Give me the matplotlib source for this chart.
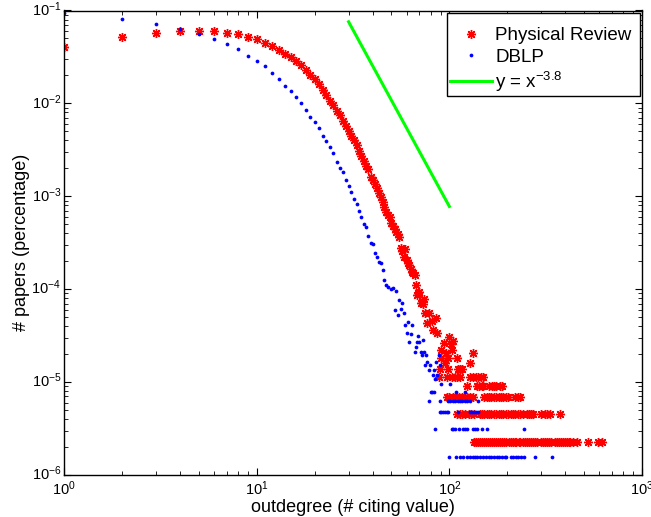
import matplotlib
matplotlib.use("Agg")
import matplotlib.pyplot as plt
import matplotlib.transforms as mtransforms
from matplotlib.patches import Rectangle

plt.rcParams['font.family'] = ['Liberation Sans', 'DejaVu Sans']
plt.rcParams['mathtext.fontset'] = 'custom'
plt.rcParams['mathtext.rm'] = 'Liberation Sans'
plt.rcParams['mathtext.it'] = 'Liberation Sans:italic'
plt.rcParams['mathtext.default'] = 'regular'

# ---------------- data ----------------
# Physical Review: outdegree -> fraction of papers (continuous part)
pr_deg = [1, 2, 3, 4, 5, 6, 7, 8, 9, 10, 11, 12, 13, 14, 15, 16, 17, 18, 19, 20,
          21, 22, 23, 24, 25, 26, 27, 28, 29, 30, 31, 32, 33, 34, 35, 36, 37, 38, 39, 40,
          41, 42, 43, 44, 45, 46, 47, 48, 49, 50, 51, 52, 53, 54, 55, 56, 57, 58, 59, 60,
          61, 62, 63, 64, 65, 66, 67, 68, 69, 70, 71, 72, 73, 74, 75, 77, 78, 81, 82, 85,
          86, 90, 94, 100, 102, 103, 104]
pr_frac = [0.0407, 0.0515, 0.0577, 0.0597, 0.0601, 0.0601, 0.0577, 0.0555, 0.0523, 0.0490,
           0.0450, 0.0418, 0.0379, 0.0343, 0.0318, 0.0286, 0.0257, 0.0227, 0.0202, 0.0183,
           0.0163, 0.0139, 0.0124, 0.0105, 0.00955, 0.00829, 0.00745, 0.00647, 0.00576, 0.0050,
           0.0045, 0.00404, 0.00359, 0.00309, 0.00274, 0.00238, 0.00213, 0.00198, 0.00163, 0.00150,
           0.00135, 0.00122, 0.00109, 0.00098, 0.00087, 0.00077, 0.00068, 0.00063, 0.00060, 0.00052,
           0.00048, 0.00045, 0.00041, 0.00039, 0.000365, 0.000275, 0.00026, 0.000224, 0.000268, 0.000205,
           0.000193, 0.00018, 0.000164, 0.000155, 0.000148, 0.000143, 0.000111, 8.66e-5, 9.17e-5, 9.4e-5,
           7.05e-5, 7.46e-5, 6.93e-5, 7.79e-5, 5.51e-5, 4.36e-5, 5.51e-5, 4.55e-5, 3.64e-5, 4.93e-5,
           3.35e-5, 2.22e-5, 2.66e-5, 3.08e-5, 2.55e-5, 2.22e-5, 2.79e-5]

# Physical Review tail: quantised levels and the outdegrees found on each
pr_levels = [2.29e-6, 4.57e-6, 6.86e-6, 9.14e-6, 1.14e-5, 1.37e-5, 1.60e-5, 1.83e-5, 2.06e-5]
pr_level_deg = [
    [135, 138, 141, 145, 148, 152, 155, 159, 163, 167, 171, 175, 179, 184, 188, 193, 198,
     203, 208, 213, 218, 223, 229, 234, 240, 246, 252, 258, 264, 271, 277, 284, 298, 305,
     313, 320, 328, 336, 353, 361, 370, 379, 388, 398, 408, 418, 423, 436, 458, 526, 593, 617],
    [109, 113, 117, 121, 126, 130, 135, 144, 148, 152, 156, 160, 165, 170, 175, 180, 185,
     190, 196, 202, 208, 214, 220, 227, 234, 242, 252, 258, 265, 272, 300, 312, 320, 333, 375],
    [97, 100, 104, 108, 112, 116, 120, 124, 128, 133, 152, 156, 160, 165, 170, 175, 180,
     185, 191, 196, 202, 219, 226, 234],
    [124, 139, 143, 147, 150, 161, 166, 170, 175, 183, 187],
    [88, 97, 103, 107, 110, 114, 128, 132, 137, 141, 146, 150],
    [89, 99, 111, 114, 117],
    [95, 128],
    [90, 99, 109],
    [96, 132],
]

# DBLP: outdegree -> fraction of papers (continuous part)
db_deg = [1, 2, 3, 4, 5, 6, 7, 8, 9, 10, 11, 12, 13, 14, 15, 16, 17, 18, 19, 20,
          21, 22, 23, 24, 25, 26, 27, 28, 29, 30, 31, 32, 33, 34, 35, 36, 37, 38, 39, 40,
          41, 42, 43, 44, 45, 46, 47, 48, 50, 51, 52, 53, 54, 55, 56, 57, 58, 59, 60, 61,
          62, 63, 64, 66, 67, 68, 69, 70, 71, 72, 73, 74, 75, 76, 77, 78, 79, 82, 83, 84,
          85, 86, 88, 89]
db_frac = [0.0933, 0.081, 0.0716, 0.0632, 0.0563, 0.0497, 0.0439, 0.0382, 0.0326, 0.0286,
           0.0251, 0.0212, 0.0184, 0.0155, 0.0136, 0.0116, 0.0100, 0.00855, 0.00708, 0.00625,
           0.00539, 0.00445, 0.00394, 0.00337, 0.00294, 0.00232, 0.00200, 0.00183, 0.00151, 0.00129,
           0.00111, 0.000929, 0.00082, 0.000695, 0.000599, 0.000507, 0.000471, 0.000371, 0.000317, 0.000304,
           0.000243, 0.00022, 0.000198, 0.000193, 0.000161, 0.000126, 0.000111, 0.000105, 9.97e-5, 1.02e-4,
           6.02e-5, 9.57e-5, 5.27e-5, 7.65e-5, 6.1e-5, 7.16e-5, 5.55e-5, 4.15e-5, 3.4e-5, 4.44e-5,
           2.68e-5, 3.27e-5, 4.15e-5, 2.09e-5, 2.39e-5, 2.68e-5, 3.14e-5, 2.68e-5, 2.09e-5, 1.96e-5,
           2.84e-5, 2.13e-5, 1.52e-5, 1.96e-5, 1.65e-5, 1.35e-5, 1.52e-5, 1.2e-5, 1.35e-5, 1.07e-5,
           1.66e-5, 1.2e-5, 1.96e-5, 1.52e-5]

# DBLP tail: quantised levels and the outdegrees found on each
db_levels = [1.574e-6, 3.15e-6, 4.72e-6, 6.30e-6, 7.87e-6, 9.44e-6]
db_level_deg = [
    [100, 108, 114, 118, 124, 128, 132, 136, 140, 145, 150, 155, 160, 165, 170, 176, 182,
     188, 194, 198, 208, 214, 221, 228, 236, 244, 280, 342],
    [84, 103, 105, 107, 112, 118, 121, 123, 132, 136, 139, 147, 157, 244],
    [89, 91, 93, 95, 97, 99, 111, 128, 131, 134, 137, 141],
    [78, 89, 98, 101, 104, 107, 111, 114, 117, 120, 123, 128, 141],
    [80, 81, 83, 108, 120],
    [91, 101],
]

# reference power law y = C * x^-3.8
law_x = [30, 100]
law_exp = -3.8
law_c = 3.1e4

# ---------------- assemble ----------------
pr_x = list(pr_deg)
pr_y = list(pr_frac)
for lev, degs in zip(pr_levels, pr_level_deg):
    pr_x += degs
    pr_y += [lev] * len(degs)

db_x = list(db_deg)
db_y = list(db_frac)
for lev, degs in zip(db_levels, db_level_deg):
    db_x += degs
    db_y += [lev] * len(degs)

law_y = [law_c * v ** law_exp for v in law_x]

# ---------------- plot ----------------
fig = plt.figure(figsize=(6.51, 5.17), dpi=100)
ax = fig.add_axes([64 / 651, 1 - 475 / 517, 578 / 651, 464.5 / 517])

ax.plot(pr_x, pr_y, linestyle='none', marker=(8, 2, 0), markersize=6.5,
        markeredgewidth=1.0, color=(1, 0, 0), label='Physical Review')
ax.plot(db_x, db_y, linestyle='none', marker='o', markersize=2.7,
        markeredgewidth=0, color=(0, 0, 1), label='DBLP')
ax.plot(law_x, law_y, color=(0, 1, 0), linewidth=2.2, label=r'y = x$^{-3.8}$')

ax.set_xscale('log')
ax.set_yscale('log')
ax.set_xlim(1, 1000)
ax.set_ylim(1e-6, 1e-1)

ax.tick_params(which='both', direction='in', top=True, right=True, labelsize=10.5)
ax.tick_params(which='major', length=5, width=0.8)
ax.tick_params(which='minor', length=2.8, width=0.6)
ax.tick_params(axis='x', pad=3)
ax.tick_params(axis='y', pad=2)
for s in ax.spines.values():
    s.set_linewidth(1.0)

# nudge y tick labels up slightly so the "10" sits on the tick as in the reference
up = mtransforms.ScaledTranslation(0, 2.5 / 100, fig.dpi_scale_trans)
for lab in ax.get_yticklabels():
    lab.set_transform(lab.get_transform() + up)

ax.set_xlabel('outdegree (# citing value)', fontsize=13, labelpad=1)
ax.set_ylabel('# papers (percentage)', fontsize=13, labelpad=1)

# legend box (frame drawn separately so the entries sit as in the reference)
ax.add_patch(Rectangle((0.6625, 0.816), 0.3335, 0.1785, transform=ax.transAxes,
                       facecolor='white', edgecolor='black', linewidth=1.0,
                       zorder=4.9, clip_on=False))
leg = ax.legend(loc='upper right', bbox_to_anchor=(1.0, 1 - 6.5 / 464.5),
                fontsize=13.5, frameon=False,
                borderaxespad=0.1, handlelength=2.2, labelspacing=0.22,
                borderpad=0.45, handletextpad=0.2)
leg.set_zorder(5)

fig.savefig('out.png', dpi=100)
